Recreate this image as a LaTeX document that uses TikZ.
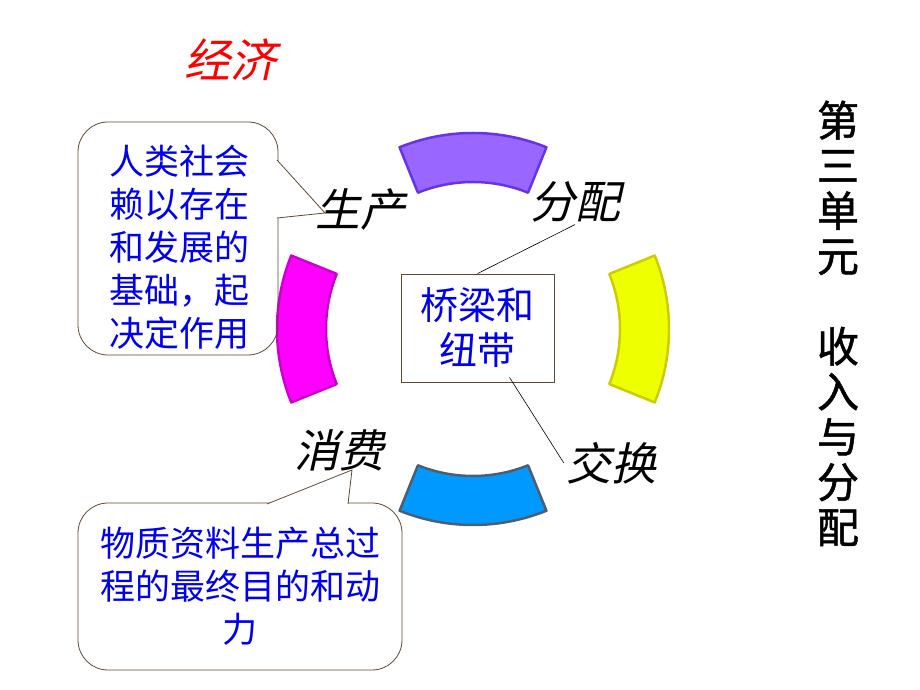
\documentclass[tikz,border=0pt]{standalone}
\usepackage{fontspec}
\newfontfamily\cjk{Noto Sans CJK SC}
\newfontfamily\cjkit{Noto Sans CJK SC}[FakeSlant=0.22]
\newfontfamily\cjkhei{Noto Sans CJK SC}[FakeBold=1.2]
\usepackage{tikz}
\definecolor{noteblue}{HTML}{0000EE}
\definecolor{edgebrown}{HTML}{5E4A33}
\definecolor{segpurple}{HTML}{9966FF}
\definecolor{segpurpleD}{HTML}{6633E6}
\definecolor{segmagenta}{HTML}{FF00FF}
\definecolor{segmagentaD}{HTML}{CC00CC}
\definecolor{segyellow}{HTML}{EEFF00}
\definecolor{segyellowD}{HTML}{CCCC00}
\definecolor{segblue}{HTML}{0099FF}
\definecolor{segblueD}{HTML}{4D5F6E}

\begin{document}
\begin{tikzpicture}[x=1pt, y=1pt,
    stage/.style={font=\cjkit\fontsize{45}{45}\selectfont, inner sep=2pt},
    note/.style={font=\cjk\fontsize{35}{43}\selectfont, text=noteblue, align=center},
    bubble/.style={draw=edgebrown, line width=0.8pt, rounded corners=30pt},
    pointer/.style={fill=white, draw=edgebrown, line width=0.8pt},
    link/.style={line width=0.6pt}]
    \useasboundingbox (0,0) rectangle (920,690);

    \node[font=\cjkit\fontsize{46}{46}\selectfont, text=red] (jingji) at (230,630) {经济};

    \foreach \a/\fc/\dc in {90/segpurple/segpurpleD, 180/segmagenta/segmagentaD, 0/segyellow/segyellowD, 270/segblue/segblueD}
      \draw[line width=2.5pt, line join=round, fill=\fc, draw=\dc, shift={(473,361)}]
        ({\a-22}:196) arc[start angle=\a-22, end angle=\a+22, radius=196]
        -- ({\a+22}:147) arc[start angle=\a+22, end angle=\a-22, radius=147] -- cycle;

    \node[draw=edgebrown, line width=0.8pt, minimum width=153pt, minimum height=108pt,
      font=\cjk\fontsize{38}{45}\selectfont, text=noteblue, align=center] (bridge) at (477.5,362) {桥梁和\\纽带};

    \node[stage] (shengchan) at (360,480) {生产};
    \node[stage] (fenpei) at (575,488) {分配};
    \node[stage] (xiaofei) at (339,240) {消费};
    \node[stage] (jiaohuan) at (611,227) {交换};

    \draw[link] (fenpei.south) -- (bridge.north);
    \draw[link] (jiaohuan.west) -- ([xshift=32pt,yshift=5pt]bridge.south);

    \draw[bubble] (78,335) rectangle (278,568);
    \coordinate (tip1) at (325,477);
    \filldraw[pointer] (277,530) -- (tip1) -- (277,472);
    \node[note] (basis) at (179.5,442.5) {人类社会\\赖以存在\\和发展的\\基础，起\\决定作用};

    \draw[bubble] (78,20) rectangle (402,187);
    \coordinate (tip2) at (352,220);
    \filldraw[pointer] (267,186) -- (tip2) -- (348,186);
    \node[note] (goal) at (240,104) {物质资料生产总过\\程的最终目的和动\\力};

    \node[font=\cjkhei\fontsize{42}{45.2}\selectfont, align=center] (unit) at (838,366.6)
      {第\\三\\单\\元\\~\\收\\入\\与\\分\\配};
\end{tikzpicture}
\end{document}
